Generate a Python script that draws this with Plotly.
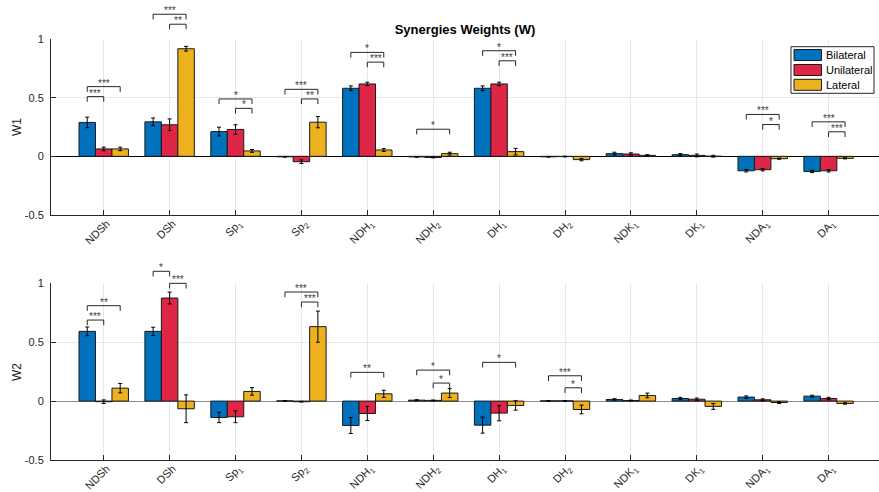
import plotly.graph_objects as go

# ---------------- data ----------------
categories = ["NDSh", "DSh", "Sp<sub>1</sub>", "Sp<sub>2</sub>", "NDH<sub>1</sub>", "NDH<sub>2</sub>",
              "DH<sub>1</sub>", "DH<sub>2</sub>", "NDK<sub>1</sub>", "DK<sub>1</sub>",
              "NDA<sub>1</sub>", "DA<sub>1</sub>"]
series_names = ["Bilateral", "Unilateral", "Lateral"]

# W1
bil1 = [0.289, 0.294, 0.211, -0.004, 0.580, -0.005, 0.580, -0.004, 0.023, 0.014, -0.123, -0.129]
bil1_err = [0.045, 0.033, 0.037, 0.003, 0.020, 0.003, 0.020, 0.003, 0.012, 0.010, 0.010, 0.010]
uni1 = [0.063, 0.269, 0.229, -0.046, 0.617, -0.010, 0.617, -0.002, 0.020, 0.008, -0.114, -0.123]
uni1_err = [0.015, 0.050, 0.040, 0.015, 0.015, 0.003, 0.015, 0.003, 0.010, 0.012, 0.010, 0.010]
lat1 = [0.063, 0.917, 0.046, 0.291, 0.054, 0.023, 0.040, -0.028, 0.008, 0.001, -0.020, -0.017]
lat1_err = [0.015, 0.020, 0.012, 0.048, 0.012, 0.012, 0.028, 0.010, 0.006, 0.008, 0.005, 0.005]

# W2
bil2 = [0.592, 0.592, -0.139, 0.002, -0.207, 0.008, -0.204, 0.002, 0.014, 0.022, 0.034, 0.042]
bil2_err = [0.037, 0.035, 0.044, 0.003, 0.068, 0.004, 0.068, 0.003, 0.006, 0.010, 0.010, 0.008]
uni2 = [-0.005, 0.875, -0.133, -0.005, -0.105, 0.006, -0.102, 0.002, 0.005, 0.016, 0.011, 0.022]
uni2_err = [0.015, 0.050, 0.050, 0.003, 0.060, 0.003, 0.065, 0.003, 0.004, 0.010, 0.008, 0.010]
lat2 = [0.110, -0.065, 0.082, 0.632, 0.062, 0.068, -0.037, -0.071, 0.048, -0.045, -0.012, -0.020]
lat2_err = [0.040, 0.118, 0.032, 0.132, 0.030, 0.038, 0.040, 0.037, 0.020, 0.025, 0.008, 0.006]

# significance brackets: (category index, series a, series b, bracket height, label)
sig1 = [
    (0, 0, 1, 0.509, "***"), (0, 0, 2, 0.594, "***"),
    (1, 0, 2, 1.211, "***"), (1, 1, 2, 1.126, "**"),
    (2, 0, 2, 0.489, "*"), (2, 1, 2, 0.409, "*"),
    (3, 0, 2, 0.571, "***"), (3, 1, 2, 0.489, "**"),
    (4, 0, 2, 0.886, "*"), (4, 1, 2, 0.803, "***"),
    (5, 0, 2, 0.231, "*"),
    (6, 0, 2, 0.900, "*"), (6, 1, 2, 0.814, "***"),
    (10, 0, 2, 0.357, "***"), (10, 1, 2, 0.271, "*"),
    (11, 0, 2, 0.294, "***"), (11, 1, 2, 0.209, "***"),
]
sig2 = [
    (0, 0, 1, 0.688, "***"), (0, 0, 2, 0.810, "**"),
    (1, 0, 1, 1.102, "*"), (1, 1, 2, 1.000, "***"),
    (3, 0, 2, 0.926, "***"), (3, 1, 2, 0.841, "***"),
    (4, 0, 2, 0.244, "**"),
    (5, 0, 2, 0.263, "*"), (5, 1, 2, 0.153, "*"),
    (6, 0, 2, 0.329, "*"),
    (7, 0, 2, 0.215, "***"), (7, 1, 2, 0.113, "*"),
]

# ---------------- style ----------------
colors = ["#0072BD", "#DE2647", "#EDB120"]
W, H = 879, 492
FONT = "Liberation Sans, Arial, sans-serif"
AX_COL = "#262626"
GRID_COL = "#e8e8e8"
YR = [-0.5, 1.0]
XR = [-0.8, 11.765]
BAR_W = 0.25
TICK_DROP = 0.044

x_idx = list(range(len(categories)))

fig = go.Figure()
panels = [
    ("x", "y", [(bil1, bil1_err), (uni1, uni1_err), (lat1, lat1_err)]),
    ("x2", "y2", [(bil2, bil2_err), (uni2, uni2_err), (lat2, lat2_err)]),
]
for xa, ya, sers in panels:
    for k, (vals, errs) in enumerate(sers):
        fig.add_trace(go.Bar(
            x=x_idx, y=vals, name=series_names[k], xaxis=xa, yaxis=ya,
            offsetgroup=str(k), showlegend=False,
            marker=dict(color=colors[k], line=dict(color="#1a1a1a", width=1)),
            error_y=dict(type="data", array=errs, color="black", thickness=1, width=2),
        ))


def ydom(v):
    return (v - YR[0]) / (YR[1] - YR[0])


def add_brackets(sigs, xa, ya):
    for cat, a, b, h, lab in sigs:
        x1 = cat + (a - 1) * BAR_W
        x2 = cat + (b - 1) * BAR_W
        y_top = ydom(h)
        y_bot = ydom(h - TICK_DROP)
        fig.add_shape(type="path",
                      path=f"M {x1},{y_bot} L {x1},{y_top} L {x2},{y_top} L {x2},{y_bot}",
                      xref=xa, yref=ya + " domain",
                      line=dict(color="#262626", width=1))
        fig.add_annotation(x=(x1 + x2) / 2, y=y_top, xref=xa, yref=ya + " domain",
                           text=lab, showarrow=False, yanchor="bottom", yshift=-4,
                           font=dict(size=10, color="#404040", family=FONT))


add_brackets(sig1, "x", "y")
add_brackets(sig2, "x2", "y2")


def px(xp):
    return xp / W


def py(yp):
    return 1 - yp / H


# custom legend (MATLAB style)
fig.add_shape(type="rect", xref="paper", yref="paper",
              x0=px(791), x1=px(874), y0=py(93.3), y1=py(46.7),
              line=dict(color="#262626", width=1), fillcolor="white")
leg_rows = [(49.5, 60.5), (64.5, 75.5), (79.3, 90.3)]
for k, (t, b) in enumerate(leg_rows):
    fig.add_shape(type="rect", xref="paper", yref="paper",
                  x0=px(794), x1=px(821.5), y0=py(b), y1=py(t),
                  line=dict(color="#1a1a1a", width=1), fillcolor=colors[k])
    fig.add_annotation(x=px(823.5), y=py((t + b) / 2), xref="paper", yref="paper",
                       text=series_names[k], showarrow=False, xanchor="left", yanchor="middle",
                       font=dict(size=11, color="#000000", family=FONT))

# y-axis titles
for txt, ycen in [("W1", 127), ("W2", 372)]:
    fig.add_annotation(x=px(17), y=py(ycen), xref="paper", yref="paper", text=txt,
                       textangle=-90, showarrow=False, xanchor="center", yanchor="middle",
                       font=dict(size=12, color=AX_COL, family=FONT))

axis_common = dict(
    showline=True, linecolor=AX_COL, linewidth=1, mirror=False,
    showgrid=True, gridcolor=GRID_COL, gridwidth=1,
    ticks="inside", ticklen=5, tickcolor=AX_COL,
    tickfont=dict(size=11, color=AX_COL, family=FONT),
)
xaxis_cfg = dict(axis_common, range=XR, tickvals=x_idx, ticktext=categories,
                 tickangle=-45, zeroline=False, domain=[51 / W, 1.0], automargin=False,
                 ticklabelstandoff=-3, ticklabelshift=3)
yaxis_cfg = dict(axis_common, range=YR, tickvals=[-0.5, 0, 0.5, 1],
                 ticktext=["-0.5", "0", "0.5", "1"], zeroline=True, zerolinewidth=1,
                 automargin=False, ticklabelstandoff=4)

fig.update_layout(
    width=W, height=H,
    margin=dict(l=0, r=0, t=0, b=0),
    paper_bgcolor="white", plot_bgcolor="white",
    barmode="group", bargap=0.25, bargroupgap=0,
    font=dict(family=FONT, color=AX_COL),
    showlegend=False,
    title=dict(text="<b>Synergies Weights (W)</b>", x=465 / W, xref="paper", y=1 - 29 / H,
               yanchor="middle", xanchor="center",
               font=dict(size=13, color="#000000", family=FONT)),
    xaxis=dict(xaxis_cfg, anchor="y"),
    yaxis=dict(yaxis_cfg, anchor="x", domain=[1 - 215 / H, 1 - 39 / H], zerolinecolor="#000000"),
    xaxis2=dict(xaxis_cfg, anchor="y2"),
    yaxis2=dict(yaxis_cfg, anchor="x2", domain=[1 - 460 / H, 1 - 283.3 / H], zerolinecolor="#8c8c8c"),
)

fig.write_html("out.html")
